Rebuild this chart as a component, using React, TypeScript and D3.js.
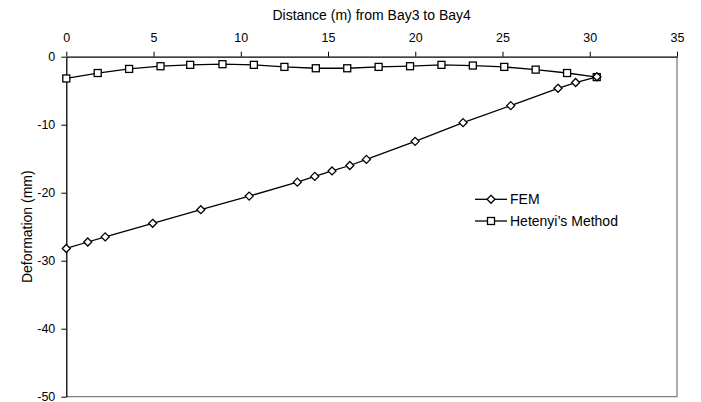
import { useEffect, useRef } from "react";
import * as d3 from "d3";

// FEM results
const femX = [0, 1.23, 2.23, 4.95, 7.71, 10.48, 13.24, 14.24, 15.23, 16.25, 17.2, 19.99, 22.74, 25.47, 28.18, 29.19, 30.41];
const femY = [-28.2, -27.25, -26.5, -24.5, -22.5, -20.5, -18.45, -17.6, -16.8, -16.0, -15.1, -12.45, -9.7, -7.2, -4.65, -3.8, -2.95];

// Hetenyi's method
const hetX = [0, 1.8, 3.6, 5.4, 7.1, 8.95, 10.75, 12.5, 14.3, 16.1, 17.9, 19.7, 21.5, 23.3, 25.1, 26.9, 28.7, 30.4];
const hetY = [-3.2, -2.4, -1.8, -1.4, -1.2, -1.1, -1.2, -1.5, -1.7, -1.7, -1.5, -1.4, -1.2, -1.3, -1.5, -1.9, -2.4, -3.0];

const xTicks = [0, 5, 10, 15, 20, 25, 30, 35];
const yTicks = [0, -10, -20, -30, -40, -50];

const FONT = "'Liberation Sans', Arial, sans-serif";

export default function App() {
  const width = 701;
  const height = 402;
  const margin = { top: 56.7, right: 24, bottom: 5.3, left: 66.3 };
  const svgRef = useRef<SVGSVGElement>(null);

  useEffect(() => {
    const svg = d3.select(svgRef.current);
    svg.selectAll("*").remove();

    const x = d3.scaleLinear().domain([0, 35]).range([margin.left, width - margin.right]);
    const y = d3.scaleLinear().domain([0, -50]).range([margin.top, height - margin.bottom]);

    // right and bottom frame
    svg
      .append("path")
      .attr("d", `M${x(35)},${y(0)}V${y(-50)}H${x(0)}`)
      .attr("fill", "none")
      .attr("stroke", "#808080")
      .attr("stroke-width", 1.3);

    const xAxis = svg
      .append("g")
      .attr("transform", `translate(0, ${y(0)})`)
      .call(
        d3.axisTop(x).tickValues(xTicks).tickFormat((d) => String(d)).tickSize(5).tickSizeOuter(0).tickPadding(10)
      );
    const yAxis = svg
      .append("g")
      .attr("transform", `translate(${x(0)}, 0)`)
      .call(
        d3.axisLeft(y).tickValues(yTicks).tickFormat((d) => String(d)).tickSize(5).tickSizeOuter(0).tickPadding(6)
      );

    [xAxis, yAxis].forEach((g) => {
      g.select(".domain").attr("stroke", "#000").attr("stroke-width", 1.3);
      g.selectAll(".tick line").attr("stroke", "#000");
      g.selectAll(".tick text")
        .attr("fill", "#000")
        .style("font-family", FONT)
        .style("font-size", "12.5px");
    });

    const femData = femX.map((v, i) => [v, femY[i]] as [number, number]);
    const hetData = hetX.map((v, i) => [v, hetY[i]] as [number, number]);
    const line = d3
      .line<[number, number]>()
      .x((d) => x(d[0]))
      .y((d) => y(d[1]));

    [femData, hetData].forEach((data) => {
      svg
        .append("path")
        .attr("d", line(data))
        .attr("fill", "none")
        .attr("stroke", "#000")
        .attr("stroke-width", 1.3);
    });

    const diamond = (g: d3.Selection<SVGGElement, unknown, null, undefined>, cx: number, cy: number) =>
      g
        .append("path")
        .attr("d", `M${cx},${cy - 4}L${cx + 4},${cy}L${cx},${cy + 4}L${cx - 4},${cy}Z`)
        .attr("fill", "#fff")
        .attr("stroke", "#000")
        .attr("stroke-width", 1.3);
    const square = (g: d3.Selection<SVGGElement, unknown, null, undefined>, cx: number, cy: number) =>
      g
        .append("rect")
        .attr("x", cx - 3.5)
        .attr("y", cy - 3.5)
        .attr("width", 7)
        .attr("height", 7)
        .attr("fill", "#fff")
        .attr("stroke", "#000")
        .attr("stroke-width", 1.3);

    const markers = svg.append("g");
    hetData.forEach((d) => square(markers, x(d[0]), y(d[1])));
    femData.forEach((d) => diamond(markers, x(d[0]), y(d[1])));

    // legend
    const legend = svg.append("g");
    const items = [
      { name: "FEM", ly: 199.3, mark: diamond },
      { name: "Hetenyi\u2019s Method", ly: 221, mark: square },
    ];
    items.forEach((it) => {
      legend
        .append("line")
        .attr("x1", 475)
        .attr("x2", 507)
        .attr("y1", it.ly)
        .attr("y2", it.ly)
        .attr("stroke", "#000")
        .attr("stroke-width", 1.3);
      it.mark(legend, 491, it.ly);
      legend
        .append("text")
        .attr("x", 510)
        .attr("y", it.ly)
        .attr("dy", "0.35em")
        .style("font-family", FONT)
        .style("font-size", "14px")
        .text(it.name);
    });

    // axis titles
    svg
      .append("text")
      .attr("x", (x(0) + x(35)) / 2)
      .attr("y", 20)
      .attr("text-anchor", "middle")
      .style("font-family", FONT)
      .style("font-size", "14px")
      .text("Distance (m) from Bay3 to Bay4");

    svg
      .append("text")
      .attr("transform", "rotate(-90)")
      .attr("x", -(y(0) + y(-50)) / 2)
      .attr("y", 32)
      .attr("text-anchor", "middle")
      .style("font-family", FONT)
      .style("font-size", "14px")
      .text("Deformation (mm)");
  }, []);

  return (
    <svg
      ref={svgRef}
      width={width}
      height={height}
      style={{ position: "absolute", left: 0, top: 0, background: "#fff" }}
    />
  );
}
